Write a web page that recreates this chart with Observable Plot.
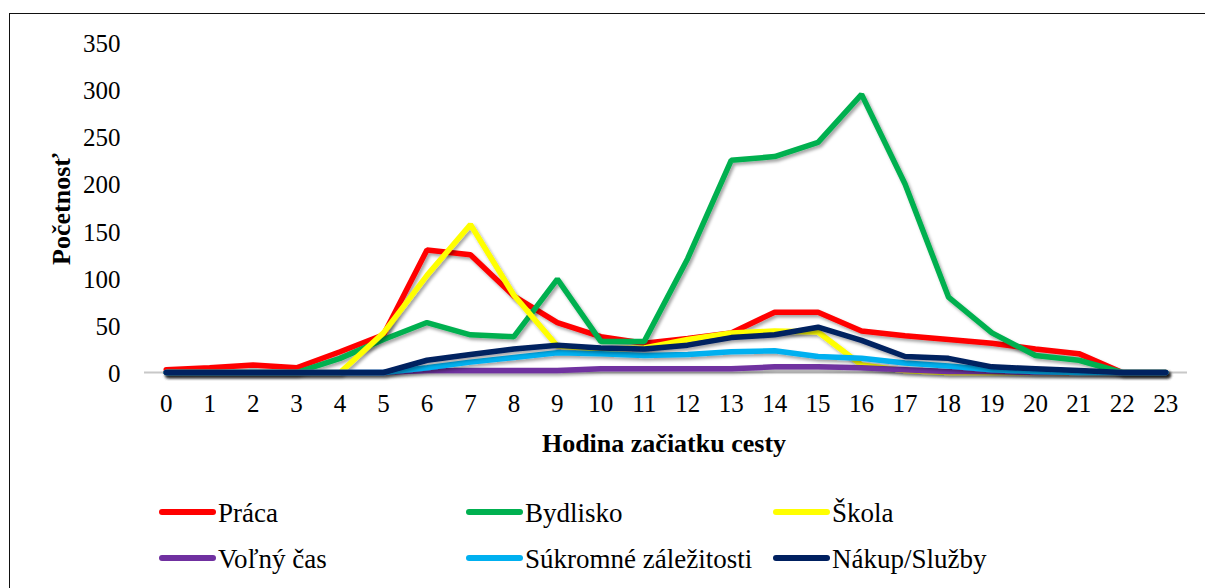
<!DOCTYPE html>
<html>
<head>
<meta charset="utf-8">
<script src="https://cdn.jsdelivr.net/npm/d3@7"></script>
<script src="https://cdn.jsdelivr.net/npm/@observablehq/plot@0.6"></script>
<style>
html, body { margin: 0; padding: 0; background: #fff; }
#wrap { position: relative; width: 1205px; height: 588px; overflow: hidden; background: #fff; }
#chart { position: absolute; left: 0; top: 0; }
#legend { position: absolute; left: 0; top: 470px; }
#frame { position: absolute; left: 9px; top: 13px; width: 1400px; height: 800px; border: 1.5px solid #111; box-sizing: border-box; pointer-events: none; }
</style>
</head>
<body>
<div id="wrap"><div id="chart"></div><div id="legend"></div><div id="frame"></div></div>
<script>
// ---- Data ----
const hours = [0, 1, 2, 3, 4, 5, 6, 7, 8, 9, 10, 11, 12, 13, 14, 15, 16, 17, 18, 19, 20, 21, 22, 23];
const yTicks = [0, 50, 100, 150, 200, 250, 300, 350];

const seriesNames = ["Práca", "Bydlisko", "Škola", "Voľný čas", "Súkromné záležitosti", "Nákup/Služby"];
const seriesColors = ["#FF0000", "#00B050", "#FFFF00", "#7030A0", "#00B0F0", "#002060"];

const praca    = [3, 5, 8, 5, 22, 40, 130, 125, 81, 53, 38, 31, 36, 42, 64, 64, 44, 39, 35, 31, 25, 20, 0, 0];
const bydlisko = [0, 0, 0, 0, 15, 35, 53, 40, 38, 99, 33, 33, 121, 225, 229, 244, 295, 200, 80, 42, 18, 13, 0, 0];
const skola    = [0, 0, 0, 0, 0, 42, 103, 157, 82, 28, 25, 26, 35, 42, 44, 43, 8, 2, 0, 0, 0, 0, 0, 0];
const volnyCas = [0, 0, 0, 0, 0, 0, 2, 2, 2, 2, 4, 4, 4, 4, 6, 6, 5, 3, 1, 1, 0, 0, 0, 0];
const sukromne = [0, 0, 0, 0, 0, 0, 5, 11, 16, 21, 20, 18, 19, 22, 23, 17, 15, 10, 7, 3, 1, 0, 0, 0];
const nakup    = [0, 0, 0, 0, 0, 0, 13, 19, 25, 29, 26, 25, 29, 37, 40, 48, 34, 17, 15, 6, 4, 2, 0, 0];

const seriesValues = [praca, bydlisko, skola, volnyCas, sukromne, nakup];

const rows = seriesNames.flatMap((name, i) =>
  hours.map((h, j) => ({ hour: h, value: seriesValues[i][j], series: name }))
);

const FONT = "Liberation Serif, LiberationSerif, Tinos, DejaVu Serif, Noto Serif, FreeSerif, Nimbus Roman, Times New Roman, serif";

const plot = Plot.plot({
  width: 1205,
  height: 470,
  marginLeft: 144,
  marginRight: 18,
  marginTop: 42,
  marginBottom: 98,
  style: { fontFamily: FONT, background: "transparent", color: "#000" },
  x: { type: "point", domain: hours, padding: 0.5, align: 0.5, round: false },
  y: { domain: [0, 350] },
  color: { domain: seriesNames, range: seriesColors },
  marks: [
    Plot.ruleY(yTicks.filter(d => d > 0), { stroke: "#3a3a3a", strokeWidth: 1.3, x1: 145, x2: 1188 }),
    Plot.ruleY([0], { stroke: "#c8c8c8", strokeWidth: 2 }),
    Plot.line(rows, {
      x: "hour", y: "value", z: "series", stroke: "series",
      strokeWidth: 5.5, strokeLinecap: "round", strokeLinejoin: "miter"
    }),
    Plot.axisY({ ticks: yTicks, tickSize: 0, tickPadding: 24, fontSize: 25, label: null, dy: 1.5 }),
    Plot.axisX({ ticks: hours, tickSize: 0, tickPadding: 22, fontSize: 25, label: null })
  ]
});

const svg = d3.select(plot);
const defs = svg.insert("defs", ":first-child");
const f = defs.append("filter").attr("id", "sh")
  .attr("filterUnits", "userSpaceOnUse")
  .attr("x", 0).attr("y", 0).attr("width", 1205).attr("height", 470);
f.append("feDropShadow").attr("dx", 2).attr("dy", 2.5).attr("stdDeviation", 1.5)
  .attr("flood-color", "#000").attr("flood-opacity", 0.35);
svg.selectAll('g[aria-label="line"] path').attr("filter", "url(#sh)");

// axis titles
svg.append("text")
  .attr("x", 664).attr("y", 452)
  .attr("text-anchor", "middle")
  .style("font-family", FONT).attr("font-size", 26).attr("font-weight", "bold")
  .attr("fill", "#000")
  .text("Hodina začiatku cesty");

svg.append("text")
  .attr("transform", "translate(61,209) rotate(-90)")
  .attr("text-anchor", "middle")
  .attr("dy", "0.33em")
  .style("font-family", FONT).attr("font-size", 26).attr("font-weight", "bold")
  .attr("fill", "#000")
  .text("Početnosť");

document.getElementById("chart").appendChild(plot);

// ---- Legend ----
const color = plot.scale("color");
const lsvg = d3.select("#legend").append("svg")
  .attr("width", 1205).attr("height", 118)
  .style("display", "block");
const cols = [159, 466, 773];
const rowsY = [42, 88];
seriesNames.forEach((name, i) => {
  const cx = cols[i % 3];
  const cy = rowsY[Math.floor(i / 3)];
  const g = lsvg.append("g");
  g.append("line")
    .attr("x1", cx + 3).attr("x2", cx + 54)
    .attr("y1", cy).attr("y2", cy)
    .attr("stroke", color.apply(name))
    .attr("stroke-width", 6)
    .attr("stroke-linecap", "round");
  g.append("text")
    .attr("x", cx + 59).attr("y", cy + 9.5)
    .style("font-family", FONT).attr("font-size", 27)
    .attr("fill", "#000")
    .text(name);
});
</script>
</body>
</html>
